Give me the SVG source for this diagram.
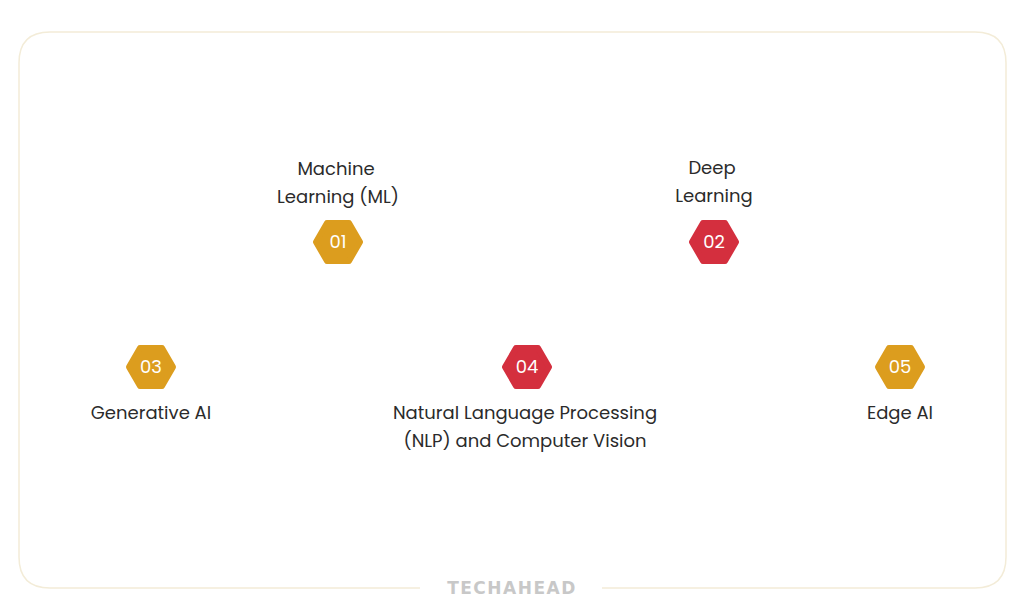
<svg xmlns="http://www.w3.org/2000/svg" width="1024" height="609" viewBox="0 0 1024 609">
<style>
.l{font-family:Poppins,"Noto Sans","Open Sans",sans-serif;font-size:18px;fill:#2b2b2b;text-anchor:middle}
.n{font-family:Poppins,"Noto Sans",sans-serif;font-size:18px;fill:#fff;text-anchor:middle}
.y{fill:#dc9d1e;stroke:#dc9d1e;stroke-width:6;stroke-linejoin:round}
.r{fill:#d42f3e;stroke:#d42f3e;stroke-width:6;stroke-linejoin:round}
</style>
<defs><path id="hx" d="M-22,-19 L-11,-19 L11,-19 L22,0 L11,19 L-11,19 L-22,0 Z" transform="scale(1)"/>
<path id="h" d="M-11,-19 L11,-19 L22,0 L11,19 L-11,19 L-22,0 Z"/></defs>
<rect width="1024" height="609" fill="#fff"/>
<path d="M420,588 H50 Q19,588 19,557 V63 Q19,32 50,32 H975 Q1006,32 1006,63 V557 Q1006,588 975,588 H602" fill="none" stroke="#f3ecd8" stroke-width="1.5"/>
<text x="512" y="594" font-family="'DejaVu Sans',sans-serif" font-weight="bold" font-size="17" fill="#c8c8c8" text-anchor="middle" letter-spacing="1.5">TECHAHEAD</text>
<g id="n1"><text class="l" x="336" y="175">Machine</text><text class="l" x="338" y="203">Learning (ML)</text><use href="#h" x="338" y="242" class="y"/><text class="n" x="338" y="248">01</text></g>
<g id="n2"><text class="l" x="712" y="174">Deep</text><text class="l" x="714" y="202">Learning</text><use href="#h" x="714" y="242" class="r"/><text class="n" x="714" y="248">02</text></g>
<g id="n3"><use href="#h" x="151" y="367" class="y"/><text class="n" x="151" y="373">03</text><text class="l" x="151" y="419">Generative AI</text></g>
<g id="n4"><use href="#h" x="527" y="367" class="r"/><text class="n" x="527" y="373">04</text><text class="l" x="525" y="419">Natural Language Processing</text><text class="l" x="525" y="447">(NLP) and Computer Vision</text></g>
<g id="n5"><use href="#h" x="900" y="367" class="y"/><text class="n" x="900" y="373">05</text><text class="l" x="900" y="419">Edge AI</text></g>
<g id="connectors"/>
</svg>
